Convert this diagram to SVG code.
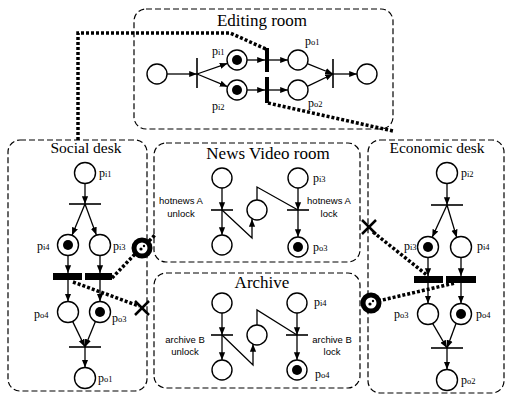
<svg xmlns="http://www.w3.org/2000/svg" width="507" height="396" viewBox="0 0 507 396">
<defs>
<marker id="ah" viewBox="0 0 10 10" refX="10" refY="5" markerWidth="6" markerHeight="6" orient="auto"><path d="M0,1 L10,5 L0,9 z" fill="#000"/></marker>
</defs>
<style>
.box{fill:none;stroke:#000;stroke-width:1.2;stroke-dasharray:6,3}
.pl{fill:#fff;stroke:#000;stroke-width:1.4}
.tok{fill:#000}
.tr{stroke:#000;stroke-width:1.6}
.bar{fill:#000}
.arc{fill:none;stroke:#000;stroke-width:1.3}
.ar{fill:none;stroke:#000;stroke-width:1.3;marker-end:url(#ah)}
.dot{fill:none;stroke:#000;stroke-width:3.5;stroke-dasharray:3,2}
.title{font-family:"Liberation Serif",serif;font-size:17px;text-anchor:middle}
.dt{font-family:"Liberation Serif",serif;font-size:15.5px;text-anchor:middle}
.lbl{font-family:"Liberation Serif",serif;font-size:12px}
.sub{font-size:8.5px}
.sm{font-family:"Liberation Sans",sans-serif;font-size:9.5px;text-anchor:middle}
.ring{fill:#fff;stroke:#000;stroke-width:5}
.x{stroke:#000;stroke-width:2.5}
</style>

<g id="editing-room">
<rect class="box" x="134" y="9" width="259" height="120" rx="12"/>
<text class="title" x="262" y="26">Editing room</text>
<circle class="pl" cx="157" cy="74" r="10"/>
<line class="tr" x1="197" y1="58" x2="197" y2="88"/>
<circle class="pl" cx="237" cy="60" r="10" stroke-width="2"/><circle class="tok" cx="237" cy="60" r="5"/>
<circle class="pl" cx="237" cy="90" r="10" stroke-width="2"/><circle class="tok" cx="237" cy="90" r="5"/>
<rect class="bar" x="265" y="48" width="4" height="24"/>
<rect class="bar" x="265" y="77" width="4" height="26"/>
<circle class="pl" cx="298" cy="60" r="10"/>
<circle class="pl" cx="298" cy="90" r="10"/>
<line class="tr" x1="333" y1="59" x2="333" y2="88"/>
<circle class="pl" cx="367" cy="74" r="10"/>
<text class="lbl" x="212" y="55">p<tspan class="sub">i1</tspan></text>
<text class="lbl" x="212" y="110">p<tspan class="sub">i2</tspan></text>
<text class="lbl" x="305" y="45">p<tspan class="sub">o1</tspan></text>
<text class="lbl" x="308" y="107">p<tspan class="sub">o2</tspan></text>
</g>

<g id="social-desk">
<rect class="box" x="8" y="140" width="139" height="251" rx="12"/>
<text class="dt" x="86" y="153">Social desk</text>
<circle class="pl" cx="85" cy="173" r="10.5"/>
<line class="tr" x1="69" y1="204" x2="101" y2="204"/>
<circle class="pl" cx="68" cy="245" r="10.5"/><circle class="tok" cx="68" cy="245" r="5"/>
<circle class="pl" cx="100" cy="245" r="10.5"/>
<rect class="bar" x="53" y="273" width="29" height="7"/>
<rect class="bar" x="85" y="273" width="27" height="7"/>
<circle class="pl" cx="68" cy="312" r="10.5"/>
<circle class="pl" cx="100" cy="312" r="10.5"/><circle class="tok" cx="100" cy="312" r="5"/>
<line class="tr" x1="69" y1="347" x2="101" y2="347"/>
<circle class="pl" cx="85" cy="378" r="10.5"/>
<text class="lbl" x="99" y="177">p<tspan class="sub">i1</tspan></text>
<text class="lbl" x="37" y="250">p<tspan class="sub">i4</tspan></text>
<text class="lbl" x="113" y="250">p<tspan class="sub">i3</tspan></text>
<text class="lbl" x="34" y="318">p<tspan class="sub">o4</tspan></text>
<text class="lbl" x="112" y="322">p<tspan class="sub">o3</tspan></text>
<text class="lbl" x="98" y="382">p<tspan class="sub">o1</tspan></text>
</g>

<g id="news-video-room">
<rect class="box" x="154" y="143" width="206" height="119" rx="12"/>
<text class="title" x="268" y="159">News Video room</text>
<circle class="pl" cx="222" cy="178" r="10"/>
<line class="tr" x1="211" y1="210" x2="233" y2="210"/>
<circle class="pl" cx="222" cy="245" r="10"/>
<circle class="pl" cx="257" cy="210" r="10"/>
<circle class="pl" cx="298" cy="178" r="10"/>
<line class="tr" x1="287" y1="210" x2="309" y2="210"/>
<circle class="pl" cx="298" cy="247" r="10"/><circle class="tok" cx="298" cy="247" r="5"/>
<text class="sm" x="181" y="204">hotnews A</text>
<text class="sm" x="181" y="217">unlock</text>
<text class="sm" x="329" y="204">hotnews A</text>
<text class="sm" x="329" y="217">lock</text>
<text class="lbl" x="313" y="182">p<tspan class="sub">i3</tspan></text>
<text class="lbl" x="313" y="251">p<tspan class="sub">o3</tspan></text>
</g>

<g id="archive">
<rect class="box" x="154" y="273" width="206" height="115" rx="12"/>
<text class="title" x="262" y="288">Archive</text>
<circle class="pl" cx="222" cy="303" r="10"/>
<line class="tr" x1="211" y1="335" x2="233" y2="335"/>
<circle class="pl" cx="222" cy="370" r="10"/>
<circle class="pl" cx="257" cy="335" r="10"/>
<circle class="pl" cx="297" cy="303" r="10"/>
<line class="tr" x1="286" y1="335" x2="308" y2="335"/>
<circle class="pl" cx="297" cy="370" r="10"/><circle class="tok" cx="297" cy="370" r="5"/>
<text class="sm" x="185" y="343">archive B</text>
<text class="sm" x="185" y="355">unlock</text>
<text class="sm" x="332" y="343">archive B</text>
<text class="sm" x="332" y="355">lock</text>
<text class="lbl" x="314" y="306">p<tspan class="sub">i4</tspan></text>
<text class="lbl" x="315" y="378">p<tspan class="sub">o4</tspan></text>
</g>

<g id="economic-desk">
<rect class="box" x="368" y="140" width="136" height="253" rx="12"/>
<text class="dt" x="437" y="153">Economic desk</text>
<circle class="pl" cx="447" cy="173" r="10.5"/>
<line class="tr" x1="431" y1="205" x2="463" y2="205"/>
<circle class="pl" cx="428" cy="247" r="10.5"/><circle class="tok" cx="428" cy="247" r="5"/>
<circle class="pl" cx="461" cy="247" r="10.5"/>
<rect class="bar" x="414" y="276" width="29" height="7"/>
<rect class="bar" x="446" y="276" width="30" height="7"/>
<circle class="pl" cx="428" cy="314" r="10.5"/>
<circle class="pl" cx="461" cy="314" r="10.5"/><circle class="tok" cx="461" cy="314" r="5"/>
<line class="tr" x1="431" y1="348" x2="463" y2="348"/>
<circle class="pl" cx="447" cy="380" r="10.5"/>
<text class="lbl" x="461" y="177">p<tspan class="sub">i2</tspan></text>
<text class="lbl" x="404" y="250">p<tspan class="sub">i3</tspan></text>
<text class="lbl" x="477" y="250">p<tspan class="sub">i4</tspan></text>
<text class="lbl" x="394" y="318">p<tspan class="sub">o3</tspan></text>
<text class="lbl" x="476" y="318">p<tspan class="sub">o4</tspan></text>
<text class="lbl" x="461" y="384">p<tspan class="sub">o2</tspan></text>
</g>

<g id="connectors">
<line class="ar" x1="167" y1="74" x2="197" y2="74"/>
<line class="ar" x1="197" y1="74" x2="227.6" y2="63.3"/>
<line class="ar" x1="197" y1="74" x2="227.6" y2="86.7"/>
<line class="ar" x1="247" y1="60" x2="265" y2="60"/>
<line class="ar" x1="269" y1="60" x2="288" y2="60"/>
<line class="ar" x1="247" y1="90" x2="265" y2="90"/>
<line class="ar" x1="269" y1="90" x2="288" y2="90"/>
<line class="ar" x1="307.3" y1="63.7" x2="333" y2="74"/>
<line class="ar" x1="307.3" y1="86.3" x2="333" y2="74"/>
<line class="ar" x1="333" y1="74" x2="357" y2="74"/>
<line class="ar" x1="85" y1="183.5" x2="85" y2="204"/>
<line class="ar" x1="85" y1="204" x2="72" y2="235.3"/>
<line class="ar" x1="85" y1="204" x2="96.4" y2="235.1"/>
<line class="ar" x1="68" y1="255.5" x2="68" y2="273"/>
<line class="ar" x1="100" y1="255.5" x2="100" y2="273"/>
<line class="ar" x1="68" y1="280" x2="68" y2="301.5"/>
<line class="ar" x1="100" y1="280" x2="100" y2="301.5"/>
<line class="ar" x1="72.6" y1="321.4" x2="85" y2="347"/>
<line class="ar" x1="95.4" y1="321.4" x2="85" y2="347"/>
<line class="ar" x1="85" y1="347" x2="85" y2="367.5"/>
<line class="ar" x1="447" y1="183.5" x2="447" y2="205"/>
<line class="ar" x1="447" y1="205" x2="432.2" y2="237.3"/>
<line class="ar" x1="447" y1="205" x2="456.7" y2="237.4"/>
<line class="ar" x1="428" y1="257.5" x2="428" y2="276"/>
<line class="ar" x1="461" y1="257.5" x2="461" y2="276"/>
<line class="ar" x1="428" y1="283" x2="428" y2="303.5"/>
<line class="ar" x1="461" y1="283" x2="461" y2="303.5"/>
<line class="ar" x1="432.6" y1="323.4" x2="447" y2="348"/>
<line class="ar" x1="456" y1="323.5" x2="447" y2="348"/>
<line class="ar" x1="447" y1="348" x2="447" y2="369.5"/>
<line class="ar" x1="222" y1="188" x2="222" y2="210"/>
<line class="ar" x1="222" y1="210" x2="222" y2="235"/>
<polyline class="ar" points="222,210 252,238 252,219"/>
<polyline class="arc" points="257,200 257,187 298,210"/>
<line class="ar" x1="298" y1="188" x2="298" y2="210"/>
<line class="ar" x1="298" y1="210" x2="298" y2="237"/>
<line class="ar" x1="222" y1="313" x2="222" y2="335"/>
<line class="ar" x1="222" y1="335" x2="222" y2="360"/>
<polyline class="ar" points="222,335 253,365 253,344"/>
<polyline class="arc" points="257,325 257,310 297,335"/>
<line class="ar" x1="297" y1="313" x2="297" y2="335"/>
<line class="ar" x1="297" y1="335" x2="297" y2="360"/>
<polyline class="dot" points="78,140 78,33 230,33 266,49"/>
<line class="dot" x1="268" y1="103" x2="393" y2="131"/>
<line class="dot" x1="112" y1="278" x2="136" y2="253"/>
<line class="dot" x1="149" y1="241" x2="156" y2="234"/>
<line class="dot" x1="73" y1="282" x2="139" y2="306"/>
<line class="dot" x1="373" y1="232" x2="428" y2="276"/>
<line class="dot" x1="378" y1="301" x2="455" y2="283"/>
<circle class="ring" cx="142" cy="248" r="8"/><circle class="tok" cx="141" cy="249" r="1.6"/><circle class="tok" cx="144" cy="246" r="1.2"/>
<circle class="ring" cx="371" cy="303" r="8"/><circle class="tok" cx="370" cy="304" r="1.6"/><circle class="tok" cx="373" cy="301" r="1.2"/>
<line class="x" x1="135" y1="301" x2="149" y2="315"/><line class="x" x1="149" y1="301" x2="135" y2="315"/>
<line class="x" x1="362" y1="220" x2="376" y2="234"/><line class="x" x1="376" y1="220" x2="362" y2="234"/>
</g>
</svg>
